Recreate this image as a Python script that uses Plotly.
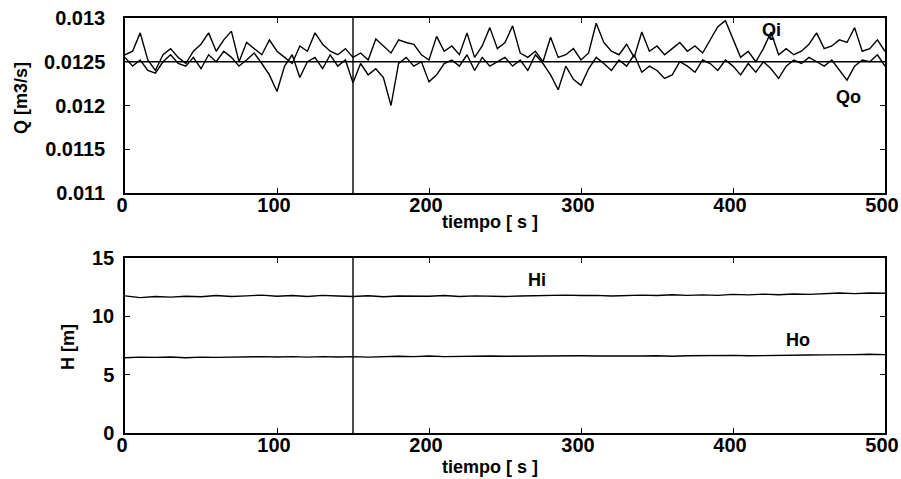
import plotly.graph_objects as go

# ---- data ----
t_q = list(range(0, 501, 5))
Qi = [0.01258, 0.01262, 0.01283, 0.01252, 0.01240, 0.01258, 0.01265, 0.01255, 0.01248, 0.01262,
      0.01270, 0.01283, 0.01262, 0.01275, 0.01285, 0.01250, 0.01272, 0.01265, 0.01258, 0.01275,
      0.01262, 0.01255, 0.01248, 0.01268, 0.01262, 0.01283, 0.01270, 0.01262, 0.01258, 0.01265,
      0.01255, 0.01260, 0.01252, 0.01276, 0.01268, 0.01260, 0.01275, 0.01272, 0.01270, 0.01258,
      0.01252, 0.01279, 0.01262, 0.01268, 0.01258, 0.01283, 0.01255, 0.01268, 0.01289, 0.01265,
      0.01272, 0.01291, 0.01260, 0.01255, 0.01262, 0.01250, 0.01278, 0.01255, 0.01258, 0.01265,
      0.01252, 0.01260, 0.01294, 0.01272, 0.01262, 0.01258, 0.01270, 0.01255, 0.01284, 0.01262,
      0.01268, 0.01258, 0.01265, 0.01272, 0.01262, 0.01268, 0.01260, 0.01275, 0.01290, 0.01297,
      0.01275, 0.01255, 0.01262, 0.01250, 0.01265, 0.01284, 0.01258, 0.01265, 0.01258, 0.01262,
      0.01270, 0.01283, 0.01265, 0.01268, 0.01275, 0.01272, 0.01289, 0.01262, 0.01265, 0.01275,
      0.01262]
Qo = [0.01255, 0.01245, 0.01252, 0.01240, 0.01237, 0.01250, 0.01258, 0.01248, 0.01245, 0.01255,
      0.01242, 0.01258, 0.01250, 0.01262, 0.01255, 0.01245, 0.01252, 0.01260, 0.01248, 0.01235,
      0.01216, 0.01245, 0.01258, 0.01232, 0.01250, 0.01255, 0.01242, 0.01258, 0.01245, 0.01252,
      0.01226, 0.01248, 0.01235, 0.01242, 0.01232, 0.01200, 0.01248, 0.01255, 0.01245, 0.01250,
      0.01227, 0.01235, 0.01248, 0.01252, 0.01245, 0.01258, 0.01240, 0.01255, 0.01245, 0.01250,
      0.01255, 0.01245, 0.01252, 0.01240, 0.01258, 0.01248, 0.01235, 0.01218, 0.01245, 0.01230,
      0.01223, 0.01242, 0.01255, 0.01248, 0.01240, 0.01252, 0.01245, 0.01258, 0.01238, 0.01245,
      0.01240, 0.01231, 0.01235, 0.01250, 0.01245, 0.01238, 0.01252, 0.01248, 0.01240, 0.01252,
      0.01245, 0.01235, 0.01248, 0.01238, 0.01250, 0.01242, 0.01231, 0.01245, 0.01252, 0.01248,
      0.01255, 0.01250, 0.01245, 0.01252, 0.01240, 0.01229, 0.01245, 0.01252, 0.01250, 0.01258,
      0.01245]
t_ref = [0, 500]
Q_ref = [0.0125, 0.0125]

t_h = list(range(0, 501, 10))
Hi = [11.75, 11.60, 11.70, 11.65, 11.72, 11.68, 11.78, 11.70, 11.75, 11.82,
      11.72, 11.78, 11.70, 11.80, 11.74, 11.70, 11.76, 11.68, 11.74, 11.70,
      11.72, 11.78, 11.70, 11.75, 11.72, 11.70, 11.74, 11.78, 11.76, 11.82,
      11.78, 11.80, 11.74, 11.80, 11.82, 11.78, 11.85, 11.80, 11.84, 11.80,
      11.88, 11.84, 11.90, 11.85, 11.92, 11.88, 11.95, 12.00, 11.95, 12.00,
      11.98]
Ho = [6.45, 6.50, 6.48, 6.52, 6.45, 6.50, 6.48, 6.52, 6.50, 6.55,
      6.52, 6.55, 6.50, 6.55, 6.52, 6.55, 6.50, 6.55, 6.58, 6.55,
      6.60, 6.55, 6.58, 6.55, 6.60, 6.58, 6.60, 6.58, 6.62, 6.60,
      6.62, 6.60, 6.58, 6.62, 6.60, 6.62, 6.58, 6.62, 6.65, 6.62,
      6.65, 6.62, 6.65, 6.68, 6.65, 6.68, 6.70, 6.68, 6.72, 6.75,
      6.72]

t_mark = 150
x_ticks = [0, 100, 200, 300, 400, 500]
q_ticks = [0.011, 0.0115, 0.012, 0.0125, 0.013]
q_tick_text = ["0.011", "0.0115", "0.012", "0.0125", "0.013"]
h_ticks = [0, 5, 10, 15]

FONT = "Liberation Sans"
line = dict(color="black", width=1.4)

fig = go.Figure()
fig.add_trace(go.Scatter(x=t_ref, y=Q_ref, mode="lines", line=line, xaxis="x", yaxis="y"))
fig.add_trace(go.Scatter(x=t_q, y=Qi, mode="lines", line=line, xaxis="x", yaxis="y"))
fig.add_trace(go.Scatter(x=t_q, y=Qo, mode="lines", line=line, xaxis="x", yaxis="y"))
fig.add_trace(go.Scatter(x=[t_mark, t_mark], y=[q_ticks[0], q_ticks[-1]], mode="lines",
                         line=line, xaxis="x", yaxis="y"))
fig.add_trace(go.Scatter(x=t_h, y=Hi, mode="lines", line=line, xaxis="x2", yaxis="y2"))
fig.add_trace(go.Scatter(x=t_h, y=Ho, mode="lines", line=line, xaxis="x2", yaxis="y2"))
fig.add_trace(go.Scatter(x=[t_mark, t_mark], y=[h_ticks[0], h_ticks[-1]], mode="lines",
                         line=line, xaxis="x2", yaxis="y2"))

tickfont = dict(family=FONT, size=20, color="black", weight="bold")
titlefont = dict(family=FONT, size=18, color="black", weight="bold")

common_x = dict(range=[0, 500], tickvals=x_ticks, ticks="inside", ticklen=5, tickcolor="black",
                showline=True, linecolor="black", linewidth=1.5, mirror="ticks",
                showgrid=False, zeroline=False, tickfont=tickfont, automargin=False,
                ticklabelstandoff=-7, ticklabelshift=-3, ticklabeloverflow="allow")
common_y = dict(ticks="inside", ticklen=5, tickcolor="black",
                showline=True, linecolor="black", linewidth=1.5, mirror="ticks",
                showgrid=False, zeroline=False, tickfont=tickfont, automargin=False)

fig.update_layout(
    width=901, height=479,
    margin=dict(l=0, r=0, t=0, b=0, autoexpand=False),
    paper_bgcolor="white", plot_bgcolor="white",
    showlegend=False,
    xaxis=dict(domain=[125/901, 885/901], anchor="y", **common_x),
    yaxis=dict(domain=[1-193/479, 1-18/479], anchor="x", range=[0.011, 0.013],
               tickvals=q_ticks, ticktext=q_tick_text, ticklabelstandoff=14, **common_y),
    xaxis2=dict(domain=[125/901, 885/901], anchor="y2", **common_x),
    yaxis2=dict(domain=[1-433/479, 1-258/479], anchor="x2", range=[0, 15],
                tickvals=h_ticks, ticklabelstandoff=5, **common_y),
)

# axis titles
fig.add_annotation(x=490/901, y=1-222/479, xref="paper", yref="paper", text="tiempo [ s ]",
                   showarrow=False, font=titlefont, xanchor="center", yanchor="middle")
fig.add_annotation(x=490/901, y=1-467/479, xref="paper", yref="paper", text="tiempo [ s ]",
                   showarrow=False, font=titlefont, xanchor="center", yanchor="middle")
fig.add_annotation(x=21/901, y=1-98/479, xref="paper", yref="paper", text="Q [m3/s]",
                   textangle=-90, showarrow=False, font=titlefont, xanchor="center", yanchor="middle")
fig.add_annotation(x=68/901, y=1-347/479, xref="paper", yref="paper", text="H [m]",
                   textangle=-90, showarrow=False, font=titlefont, xanchor="center", yanchor="middle")

# series labels
fig.add_annotation(x=425, y=0.01286, xref="x", yref="y", text="Qi", showarrow=False,
                   font=titlefont, xanchor="center", yanchor="middle")
fig.add_annotation(x=476, y=0.01210, xref="x", yref="y", text="Qo", showarrow=False,
                   font=titlefont, xanchor="center", yanchor="middle")
fig.add_annotation(x=271, y=13.1, xref="x2", yref="y2", text="Hi", showarrow=False,
                   font=titlefont, xanchor="center", yanchor="middle")
fig.add_annotation(x=443, y=8.0, xref="x2", yref="y2", text="Ho", showarrow=False,
                   font=titlefont, xanchor="center", yanchor="middle")

fig.write_html("out.html", config={"displayModeBar": False},
               post_script="document.body.style.margin='0';document.body.style.overflow='hidden';")
